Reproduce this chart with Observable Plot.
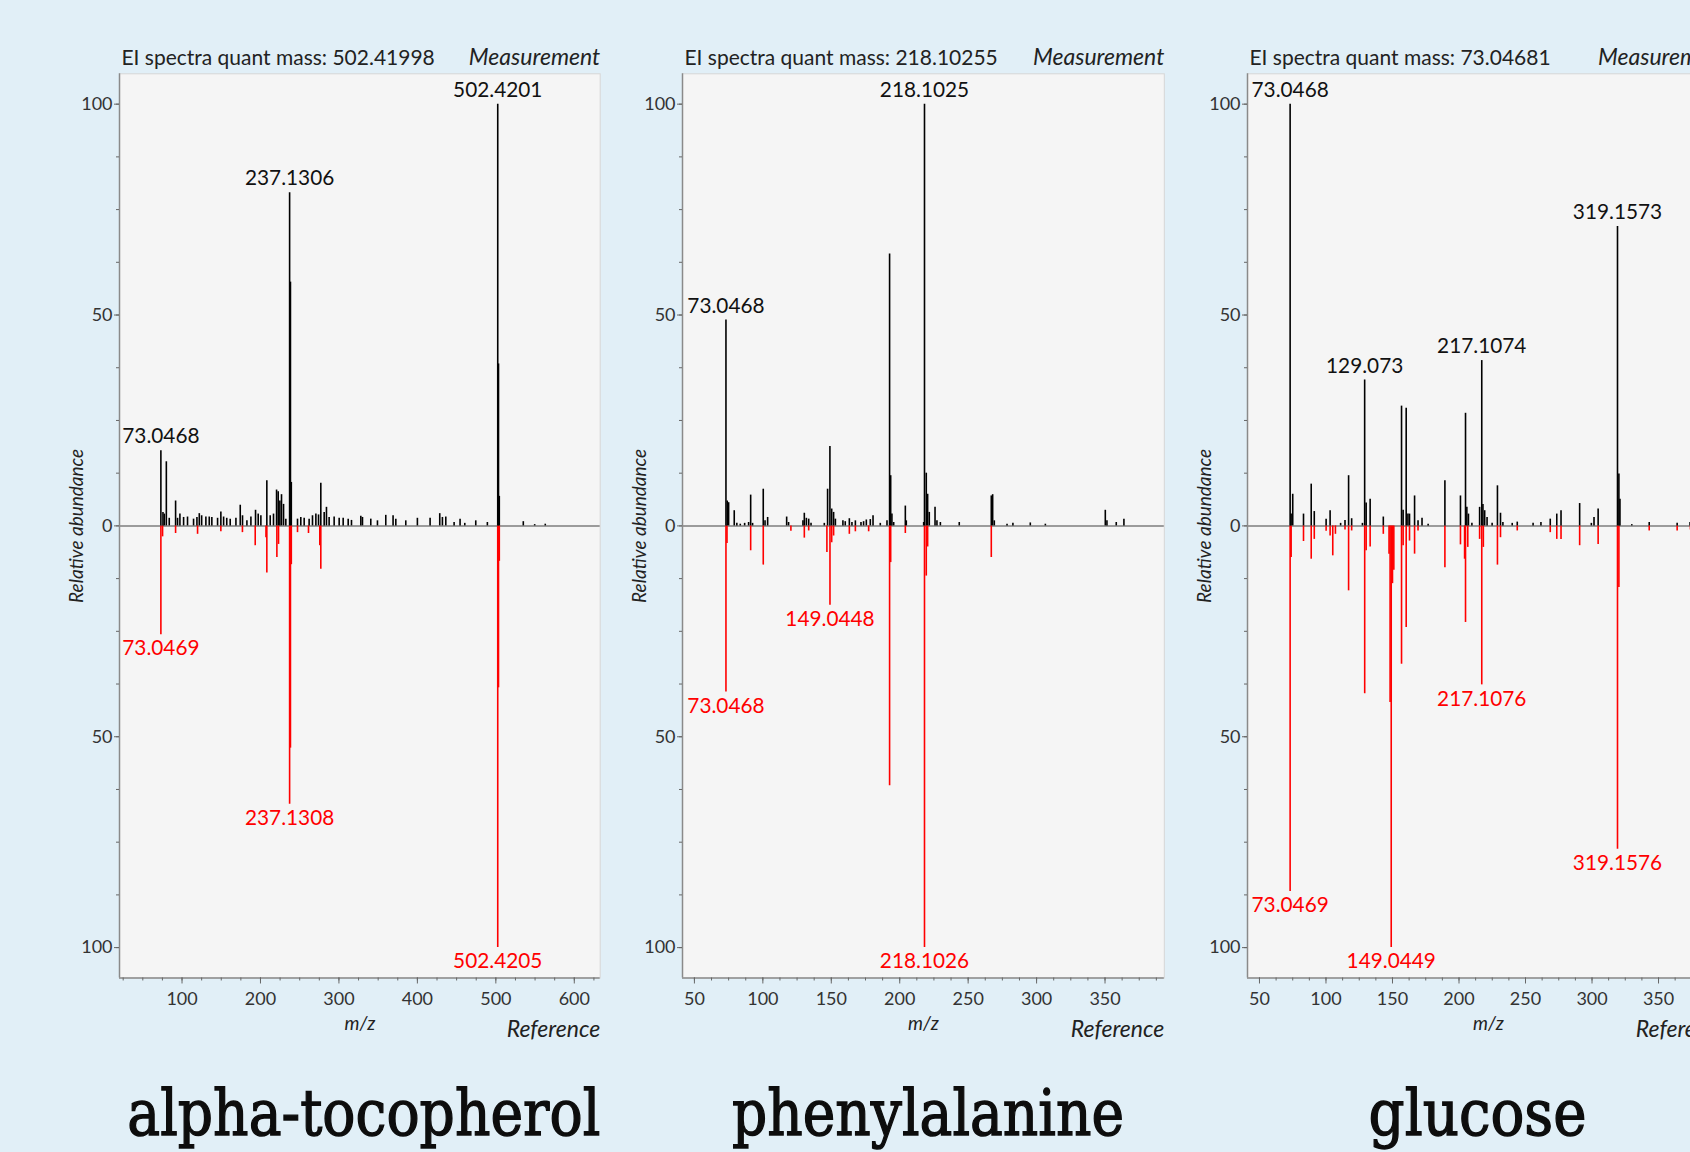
<!DOCTYPE html>
<html>
<head>
<meta charset="utf-8">
<script src="https://cdn.jsdelivr.net/npm/d3@7"></script>
<script src="https://cdn.jsdelivr.net/npm/@observablehq/plot@0.6"></script>
<style>
  html, body { margin: 0; padding: 0; overflow: hidden; background: #E1EFF7; }
  #page { position: relative; width: 1690px; height: 1152px; overflow: hidden; background: #E1EFF7; }
  .panel { position: absolute; top: 20px; }
  .panel svg { max-width: none !important; }
  #names { position: absolute; left: 0; top: 0; }
</style>
</head>
<body>
<div id="page"></div>
<script>
// ---------------- DATA ----------------
const compoundNames = ["alpha-tocopherol", "phenylalanine", "glucose"];
const quantTitles = [
  "EI spectra quant mass: 502.41998",
  "EI spectra quant mass: 218.10255",
  "EI spectra quant mass: 73.04681"
];

// [m/z, relative abundance]
const tocoMeasured = [[73.0468,17.8],[75.7,3.2],[77.4,2.8],[80,15.2],[83.7,1.8],[91.8,5.9],[94.3,1.8],[97.3,2.8],[102,2.0],[107,2.1],[114.7,1.6],[119,2.0],[122,2.9],[125,2.4],[130.4,2.1],[134.7,2.1],[138,2.0],[145.3,1.8],[149.5,3.3],[153,2.1],[157,1.8],[161.4,1.6],[168.7,1.8],[174.2,4.9],[177.1,2.4],[182.7,1.2],[187.8,2.1],[193.7,3.7],[197.1,2.8],[200.5,2.4],[208.1,10.7],[212.4,2.4],[216.6,2.8],[220.5,8.5],[222.6,8.1],[224.7,5.9],[226.8,7.4],[229.4,5.1],[232.3,1.6],[237.1306,79],[238.2,57.8],[239.3,10.3],[247.2,1.6],[251.4,2.0],[255.7,1.8],[262,1.6],[266.3,2.4],[270.6,2.8],[274,2.6],[276.9,10.1],[281.2,3.2],[284.1,4.4],[287.5,2.0],[293.9,2.1],[300.3,1.8],[305.4,1.8],[311.8,1.6],[316,1.3],[327.9,2.3],[330,2.0],[340.6,1.6],[349.1,1.2],[359.7,2.5],[369,2.4],[372.5,1.6],[385.2,1.2],[400,1.8],[416.2,1.8],[428.5,2.9],[431.9,2.0],[436.2,2.1],[446.8,0.8],[454.4,1.6],[460.4,0.6],[474.4,1.2],[489.2,0.8],[502.4201,100],[503.4,38.4],[504.4,7],[535,1.0],[549.5,0.3],[563,0.4]];
const tocoReference = [[73.0469,25.8],[75.2,2.6],[91.8,1.8],[119.8,2.0],[149.5,1.4],[177,1.6],[193.3,4.7],[207,2.8],[208.1,11.2],[220.9,7.5],[223,4.4],[237.1308,66],[238.2,52.7],[239.3,9.2],[247.2,1.6],[261.2,1.8],[275.6,4.7],[276.9,10.3],[502.4205,100],[503.4,38.4],[504.4,8.4]];
const tocoMeasuredLabels = ["73.0468", "237.1306", "502.4201"];
const tocoReferenceLabels = ["73.0469", "237.1308", "502.4205"];

const pheMeasured = [[73.0468,48.8],[74,5.9],[75,5.5],[79.1,3.6],[81,0.6],[83.5,0.4],[86.7,0.6],[89.6,0.8],[91.1,7.3],[92.5,0.6],[100.3,8.7],[101.6,1.2],[103.5,2.0],[117.4,2.1],[118.8,0.8],[129.3,1.2],[130.3,3.0],[131.8,1.8],[133.5,1.6],[135.2,0.6],[144.9,0.6],[147.3,8.7],[149.0,18.8],[150.3,4.0],[151.7,3.2],[153,1.6],[158.5,1.2],[160.2,1.0],[163.2,1.7],[165.1,0.8],[167.6,1.2],[171.7,0.8],[173.6,1.0],[175.6,1.4],[178.5,1.5],[180.5,2.4],[185.8,0.6],[190.7,1.2],[192.6,64.5],[193.4,11.9],[194.3,2.8],[195.6,0.8],[204.1,4.7],[204.8,1.2],[217.5,0.8],[218.1025,100],[219.4,12.5],[220.4,7.5],[221.6,3.2],[225.8,4.4],[227.2,1.2],[229.7,0.8],[243.5,0.8],[266.9,7.1],[267.9,7.4],[269.1,1.2],[278.4,0.4],[282.7,0.6],[295.4,0.7],[306.4,0.4],[350.2,3.7],[351.4,1.2],[358.2,0.8],[363.8,1.6]];
const pheReference = [[73.0468,39.4],[73.8,4.2],[91.1,5.9],[100.3,9.3],[120.5,1.3],[130.3,2.9],[133.5,1.2],[146.8,6.3],[149.0448,18.8],[150.3,4.0],[151.7,2.4],[163.2,2.0],[167.6,1.4],[177.3,1.4],[192.6,61.6],[193.4,8.7],[204.1,1.8],[218.1026,100],[219.4,11.9],[220.4,5.0],[266.9,7.5]];
const pheMeasuredLabels = ["73.0468", "218.1025"];
const pheReferenceLabels = ["73.0468", "149.0448", "218.1026"];

const gluMeasured = [[73.0468,100],[73.8,2.8],[75,7.5],[83.1,2.8],[88.9,9.9],[91.2,3.4],[100.1,1.6],[103.1,3.6],[111,0.6],[114.3,1.3],[117,11.9],[119.3,1.7],[127.4,0.6],[129.073,34.6],[130.2,5.4],[133.2,6.3],[143.1,2.1],[156.8,28.4],[158,3.7],[160.3,27.9],[161.6,2.8],[162.8,2.8],[166.6,7.1],[169.2,1.2],[172.2,1.8],[176.8,0.4],[189.4,10.7],[201.1,7.1],[204.9,26.7],[205.9,4.4],[207.1,2.8],[209.7,0.6],[215.5,4.4],[217.1074,39.2],[218,5.1],[219.3,3.6],[221.1,2.0],[224.9,0.6],[228.9,9.5],[231.2,3.0],[233,0.8],[240,0.6],[243.8,0.9],[255.7,0.6],[261.6,0.8],[268.6,1.6],[273.5,2.8],[276.7,3.6],[290.7,5.3],[299.5,0.6],[301.5,2.0],[304.6,4.0],[319.1573,71],[320.2,12.3],[321,6.3],[329.9,0.3],[343,0.8],[364,0.6],[373.7,0.8]];
const gluReference = [[73.0469,86.7],[73.8,7.5],[83.1,3.7],[88.9,7.9],[91.2,3.2],[100.1,1.3],[103.1,2.4],[105.1,7.1],[107.1,2.0],[114.3,1.0],[117,15.4],[119.3,1.2],[129.1,39.8],[130.2,5.9],[133.2,5.0],[143.1,2.0],[147.4,6.7],[148.2,41.9],[149.0449,100],[150,13.7],[151,10.5],[156.8,32.8],[158,4.7],[160.3,24.1],[162.8,3.6],[166.6,6.7],[169.2,1.2],[189.4,9.9],[201.1,4.5],[204.2,7.9],[204.9,22.9],[206.6,5.1],[215.5,3.2],[217.1076,37.7],[218.3,5.1],[228.9,9.3],[231.2,2.8],[243.8,1.2],[268.6,1.6],[273.5,3.2],[276.7,3.2],[290.7,4.7],[304.6,4.4],[319.1576,76.7],[320.2,14.6],[343,1.2],[364,1.2],[374,1.0]];
const gluMeasuredLabels = ["73.0468", "129.073", "217.1074", "319.1573"];
const gluReferenceLabels = ["73.0469", "149.0449", "217.1076", "319.1576"];

const yTicks = [-100, -50, 0, 50, 100];
const tocoXTicks = [100, 200, 300, 400, 500, 600];
const pheXTicks = [50, 100, 150, 200, 250, 300, 350];
const gluXTicks = [50, 100, 150, 200, 250, 300, 350];

// ---------------- LAYOUT ----------------
const layout = [
  { frameLeft: 118.6, frameWidth: 480.7, domain: [20.3, 633], minorStep: 25, nameCenter: 363.8, nameWidth: 473,
    meas: tocoMeasured, ref: tocoReference, measLabels: tocoMeasuredLabels, refLabels: tocoReferenceLabels, xTicks: tocoXTicks },
  { frameLeft: 682.2, frameWidth: 481.8, domain: [41.3, 393.3], minorStep: 12.5, nameCenter: 928, nameWidth: 392,
    meas: pheMeasured, ref: pheReference, measLabels: pheMeasuredLabels, refLabels: pheReferenceLabels, xTicks: pheXTicks },
  { frameLeft: 1247.0, frameWidth: 481.8, domain: [41.0, 403.2], minorStep: 12.5, nameCenter: 1477.6, nameWidth: 218,
    meas: gluMeasured, ref: gluReference, measLabels: gluMeasuredLabels, refLabels: gluReferenceLabels, xTicks: gluXTicks }
];

const Y0 = -107.2, Y1 = 107.2;
const page = document.getElementById("page");

function findPeak(series, label) {
  const v = parseFloat(label);
  let best = series[0];
  for (const p of series) if (Math.abs(p[0] - v) < Math.abs(best[0] - v)) best = p;
  return { mz: best[0], ab: best[1], label };
}

layout.forEach((cfg, i) => {
  const mL = 70, mR = 2;
  const W = mL + cfg.frameWidth + mR;
  const measLab = cfg.measLabels.map(l => findPeak(cfg.meas, l));
  const refLab = cfg.refLabels.map(l => findPeak(cfg.ref, l));
  const minorX = d3.range(Math.ceil(cfg.domain[0] / cfg.minorStep) * cfg.minorStep, cfg.domain[1], cfg.minorStep);
  const chart = Plot.plot({
    width: W, height: 1025,
    marginLeft: mL, marginRight: mR, marginTop: 53.3, marginBottom: 67.5,
    x: { domain: cfg.domain },
    y: { domain: [Y0, Y1] },
    style: { background: "transparent", fontFamily: "Lato, 'Open Sans', sans-serif", color: "#333", overflow: "visible", maxWidth: "none" },
    marks: [
      Plot.frame({ fill: "#f5f5f5", stroke: "#d6d6d6" }),
      Plot.ruleY([0], { stroke: "#7d7d7d", strokeWidth: 1.5 }),
      Plot.ruleX(cfg.ref, { x: d => d[0], y1: 0, y2: d => -d[1], stroke: "#ff0000", strokeWidth: 1.6 }),
      Plot.ruleX(cfg.meas, { x: d => d[0], y1: 0, y2: d => d[1], stroke: "#000000", strokeWidth: 1.6 }),
      Plot.ruleX([cfg.domain[0]], { stroke: "#8a8a8a", strokeWidth: 1.5 }),
      Plot.ruleY([Y0], { stroke: "#8a8a8a", strokeWidth: 1.5 }),
      Plot.axisY({ ticks: yTicks, tickFormat: d => Math.abs(d), tickSize: 5, tickPadding: 2, fontSize: 18, label: null, stroke: "#666" }),
      Plot.axisY({ ticks: d3.range(-100, 100.01, 12.5), tickFormat: () => "", tickSize: 3, label: null, stroke: "#666" }),
      Plot.axisX({ ticks: cfg.xTicks, tickSize: 6, tickPadding: 8, fontSize: 18, label: null, stroke: "#666" }),
      Plot.axisX({ ticks: minorX, tickFormat: () => "", tickSize: 3, label: null, stroke: "#666" }),
      Plot.text(measLab, { x: "mz", y: "ab", text: "label", dy: -14, lineAnchor: "middle", fill: "#111", fontSize: 20.8 }),
      Plot.text(refLab, { x: "mz", y: d => -d.ab, text: "label", dy: 14, lineAnchor: "middle", fill: "#ff0000", fontSize: 20.8 }),
      Plot.text([quantTitles[i]], { text: d => d, frameAnchor: "top-left", textAnchor: "start", dx: 2, dy: -16, lineAnchor: "middle", fontSize: 21, fill: "#222" }),
      Plot.text(["Measurement"], { text: d => d, frameAnchor: "top-right", textAnchor: "end", dy: -16, lineAnchor: "middle", fontSize: 23, fontStyle: "italic", fill: "#222" }),
      Plot.text(["Relative abundance"], { text: d => d, frameAnchor: "left", textAnchor: "middle", dx: -43, rotate: -90, fontSize: 19, fontStyle: "italic", fill: "#222" }),
      Plot.text(["m/z"], { text: d => d, frameAnchor: "bottom", dy: 46, lineAnchor: "middle", fontSize: 19, fontStyle: "italic", fill: "#222" }),
      Plot.text(["Reference"], { text: d => d, frameAnchor: "bottom-right", textAnchor: "end", dy: 52, lineAnchor: "middle", fontSize: 23, fontStyle: "italic", fill: "#222" })
    ]
  });
  const holder = document.createElement("div");
  holder.className = "panel";
  holder.style.left = (cfg.frameLeft - mL) + "px";
  holder.style.width = W + "px";
  chart.style.maxWidth = "none";
  chart.setAttribute("width", W);
  holder.appendChild(chart);
  page.appendChild(holder);
});

// compound names
const names = d3.select(page).append("svg").attr("id", "names").attr("width", 1690).attr("height", 1152);
names.selectAll("text").data(layout).join("text")
  .attr("x", d => d.nameCenter)
  .attr("y", 1135)
  .attr("text-anchor", "middle")
  .attr("textLength", d => d.nameWidth)
  .attr("lengthAdjust", "spacingAndGlyphs")
  .attr("font-family", "'DejaVu Serif', serif")
  .attr("font-size", 64)
  .attr("fill", "#0d0d0d")
  .attr("stroke", "#0d0d0d")
  .attr("stroke-width", 1.4)
  .text((d, i) => compoundNames[i]);
</script>
</body>
</html>
